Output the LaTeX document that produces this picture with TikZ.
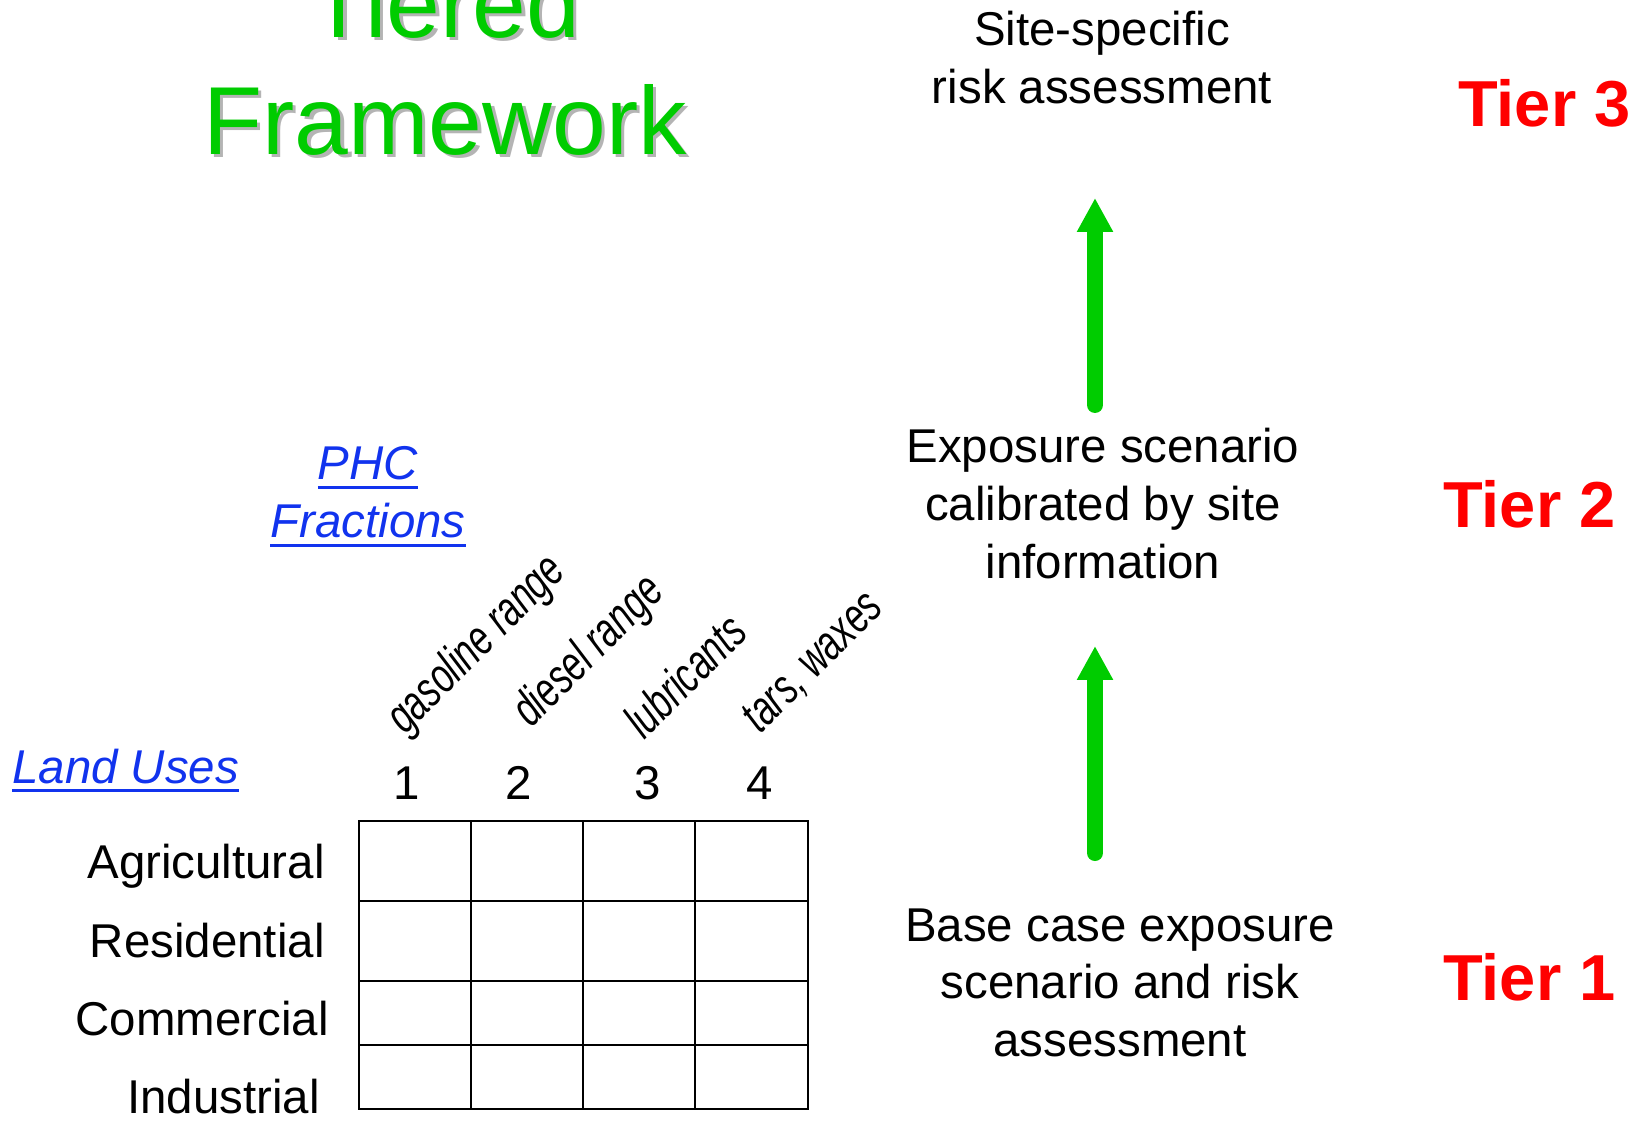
\documentclass[tikz,border=0pt]{standalone}
\usepackage{fontspec}
\setmainfont{Liberation Sans}
\usepackage{graphicx}
\usetikzlibrary{arrows.meta}

\definecolor{framegreen}{RGB}{0,204,0}
\definecolor{shadowgray}{RGB}{180,180,180}
\definecolor{linkblue}{RGB}{17,51,238}
\definecolor{tierred}{RGB}{255,0,0}

% underlined link-style text
\newcommand{\linktext}[1]{\setbox0\hbox{#1}\rlap{\rule[-0.2em]{\wd0}{0.065em}}\box0}

\begin{document}
\begin{tikzpicture}[x=0.02cm, y=-0.02cm,
  body/.style={font=\fontsize{27}{33}\selectfont, inner sep=0pt},
  titletext/.style={font=\fontsize{55}{66.5}\selectfont, inner sep=0pt, align=center, anchor=north},
  tierlabel/.style={font=\fontsize{37}{44}\selectfont\bfseries, text=tierred, inner sep=0pt, anchor=base west},
  linklabel/.style={body, font=\fontsize{27}{33}\selectfont\itshape, text=linkblue},
  fraction/.style={font=\fontsize{28}{32}\selectfont\itshape, inner sep=0pt, rotate=45, anchor=base west},
  gridline/.style={line width=1.1pt},
  tierarrow/.style={framegreen, line width=0.32cm, line cap=round, -{Triangle[width=0.68cm, length=0.68cm]}}]
\useasboundingbox (0,0) rectangle (1638,1121);

% Title with its shadow
\node[titletext, text=shadowgray] at (448.5,-29.5) {Tiered\\Framework};
\node[titletext, text=framegreen] (title) at (445,-33) {Tiered\\Framework};

% The three tiers
\node[body, align=center, anchor=north] (site) at (1102,11) {Site-specific\\risk assessment};
\node[body, align=center, anchor=north] (expo) at (1103,428) {Exposure scenario\\calibrated by site\\information};
\node[body, align=center, anchor=north] (basecase) at (1120,908) {Base case exposure\\scenario and risk\\assessment};
\node[tierlabel] (tier3) at (1458,127) {Tier 3};
\node[tierlabel] (tier2) at (1443,527) {Tier 2};
\node[tierlabel] (tier1) at (1443,1000) {Tier 1};

\coordinate (up1from) at (1095,405);
\coordinate (up1to) at (1095,198);
\coordinate (up2from) at (1095,853);
\coordinate (up2to) at (1095,646);
\draw[tierarrow] (up1from) -- (up1to);
\draw[tierarrow] (up2from) -- (up2to);

% Headings of the matrix
\node[linklabel, align=center, anchor=north] (phc) at (368,446) {\linktext{PHC}\\\linktext{Fractions}};
\node[linklabel, anchor=base west] (landuses) at (12,783) {\linktext{Land Uses}};

\node[fraction] (frac1) at (405,736) {\scalebox{0.71}[1]{gasoline range}};
\node[fraction] (frac2) at (531,729) {\scalebox{0.71}[1]{diesel range}};
\node[fraction] (frac3) at (644,741) {\scalebox{0.71}[1]{lubricants}};
\node[fraction] (frac4) at (760,735) {\scalebox{0.71}[1]{tars, waxes}};

\node[body, anchor=base] (num1) at (407,799) {1};
\node[body, anchor=base] (num2) at (519,799) {2};
\node[body, anchor=base] (num3) at (648,799) {3};
\node[body, anchor=base] (num4) at (760,799) {4};

\node[body, anchor=base east] (agri) at (325,878) {Agricultural};
\node[body, anchor=base east] (resi) at (325,957) {Residential};
\node[body, anchor=base east] (comm) at (329,1035) {Commercial};
\node[body, anchor=base east] (indu) at (320,1113) {Industrial};

% Draw the grid
\draw[gridline] (359,821) rectangle (471,901);
\draw[gridline] (471,821) rectangle (583,901);
\draw[gridline] (583,821) rectangle (695,901);
\draw[gridline] (695,821) rectangle (808,901);
\draw[gridline] (359,901) rectangle (471,981);
\draw[gridline] (471,901) rectangle (583,981);
\draw[gridline] (583,901) rectangle (695,981);
\draw[gridline] (695,901) rectangle (808,981);
\draw[gridline] (359,981) rectangle (471,1045);
\draw[gridline] (471,981) rectangle (583,1045);
\draw[gridline] (583,981) rectangle (695,1045);
\draw[gridline] (695,981) rectangle (808,1045);
\draw[gridline] (359,1045) rectangle (471,1109);
\draw[gridline] (471,1045) rectangle (583,1109);
\draw[gridline] (583,1045) rectangle (695,1109);
\draw[gridline] (695,1045) rectangle (808,1109);
\end{tikzpicture}
\end{document}
